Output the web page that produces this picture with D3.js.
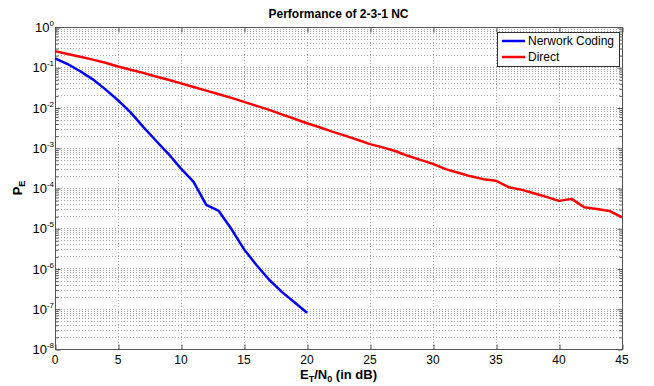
<!DOCTYPE html>
<html>
<head>
<meta charset="utf-8">
<script src="https://cdn.jsdelivr.net/npm/d3@7"></script>
<style>
body { margin: 0; background: #fff; }
text { font-family: "Liberation Sans", Arial, sans-serif; }
</style>
</head>
<body>
<div class="chart"></div>
<script>
// E_T/N_0 in dB
var snrNC = d3.range(0, 21);
var snrDirect = d3.range(0, 46);

// log10 of error probability
var logNC = [-0.78, -0.92, -1.10, -1.30, -1.55, -1.82, -2.12, -2.48, -2.82, -3.15,
    -3.52, -3.85, -4.42, -4.57, -5.02, -5.52, -5.92, -6.28, -6.58, -6.84, -7.10];
var logDirect = [-0.60, -0.67, -0.74, -0.81, -0.89, -0.98, -1.06, -1.14, -1.23, -1.31,
    -1.40, -1.49, -1.58, -1.67, -1.76, -1.86, -1.96, -2.06, -2.17, -2.28,
    -2.39, -2.49, -2.60, -2.70, -2.80, -2.91, -2.99, -3.08, -3.20, -3.30,
    -3.40, -3.53, -3.62, -3.71, -3.78, -3.82, -3.98, -4.04, -4.13, -4.22,
    -4.32, -4.27, -4.48, -4.52, -4.57, -4.73];

var xTicks = [0, 5, 10, 15, 20, 25, 30, 35, 40, 45];
var yExps = [0, -1, -2, -3, -4, -5, -6, -7, -8];
var seriesNames = ["Nerwork Coding", "Direct"];
var seriesColors = ["#0000ff", "#ff0000"];

// plot box (note: "top" is reserved on window, so use pTop)
var pLeft = 55, pTop = 27, pRight = 622, pBottom = 349;

var svg = d3.select(".chart")
    .append("svg")
    .attr("width", 654)
    .attr("height", 386);

var x = d3.scaleLinear().domain([0, 45]).range([pLeft, pRight]);
var y = d3.scaleLog().domain([1e-8, 1]).range([pBottom, pTop]);

// grid: minor + major on y, major on x
var yGrid = [];
yExps.forEach(function(e) {
    if (e > -8) {
        for (var k = 1; k < 10; k++) yGrid.push(k * Math.pow(10, e - 1));
    }
});

var gridColor = "#a8a8a8";
svg.append("g").selectAll("line")
    .data(yGrid.filter(function(d) { return d > 1.5e-8; }))
    .enter().append("line")
    .attr("x1", pLeft).attr("x2", pRight)
    .attr("y1", function(d) { return Math.round(y(d)) + 0.5; })
    .attr("y2", function(d) { return Math.round(y(d)) + 0.5; })
    .style("stroke", gridColor)
    .style("stroke-width", 1)
    .style("stroke-dasharray", "1,2");

svg.append("g").selectAll("line")
    .data(xTicks.slice(1, -1))
    .enter().append("line")
    .attr("x1", function(d) { return Math.round(x(d)) + 0.5; })
    .attr("x2", function(d) { return Math.round(x(d)) + 0.5; })
    .attr("y1", pTop).attr("y2", pBottom)
    .style("stroke", gridColor)
    .style("stroke-width", 1)
    .style("stroke-dasharray", "1,2");

// axes box with inward ticks
var axisColor = "#555";
svg.append("rect")
    .attr("x", pLeft + 0.5).attr("y", pTop + 0.5)
    .attr("width", pRight - pLeft).attr("height", pBottom - pTop)
    .style("fill", "none")
    .style("stroke", axisColor);

var xb = d3.axisBottom(x).tickValues(xTicks).tickSize(-5).tickFormat("");
var xt = d3.axisTop(x).tickValues(xTicks).tickSize(-5).tickFormat("");
svg.append("g").attr("transform", "translate(0.5," + (pBottom + 0.5) + ")").call(xb);
svg.append("g").attr("transform", "translate(0.5," + (pTop + 0.5) + ")").call(xt);

var yMajor = yExps.map(function(e) { return Math.pow(10, e); });
var yMinor = yGrid.filter(function(d) {
    var l = Math.log10(d);
    return Math.abs(l - Math.round(l)) > 1e-9;
});
svg.append("g").attr("transform", "translate(" + (pLeft + 0.5) + ",0.5)")
    .call(d3.axisLeft(y).tickValues(yMajor).tickSize(-5).tickFormat(""));
svg.append("g").attr("transform", "translate(" + (pRight + 0.5) + ",0.5)")
    .call(d3.axisRight(y).tickValues(yMajor).tickSize(-5).tickFormat(""));
svg.append("g").attr("transform", "translate(" + (pLeft + 0.5) + ",0.5)")
    .call(d3.axisLeft(y).tickValues(yMinor).tickSize(-3).tickFormat(""));
svg.append("g").attr("transform", "translate(" + (pRight + 0.5) + ",0.5)")
    .call(d3.axisRight(y).tickValues(yMinor).tickSize(-3).tickFormat(""));
svg.selectAll(".domain").remove();
svg.selectAll(".tick line").style("stroke", axisColor);

// tick labels
svg.append("g").selectAll("text")
    .data(xTicks)
    .enter().append("text")
    .attr("x", function(d) { return x(d); })
    .attr("y", pBottom + 15)
    .attr("text-anchor", "middle")
    .style("font-size", "12px")
    .text(function(d) { return d; });

var yl = svg.append("g").selectAll("text")
    .data(yExps)
    .enter().append("text")
    .attr("x", 54)
    .attr("y", function(d) { return y(Math.pow(10, d)) + 5; })
    .attr("text-anchor", "end")
    .style("font-size", "13px");
yl.append("tspan").text("10");
yl.append("tspan").attr("dy", -6).style("font-size", "8px").text(function(d) { return d; });

// lines
var line = d3.line()
    .x(function(d) { return x(d[0]); })
    .y(function(d) { return y(Math.pow(10, d[1])); });

var series = [
    d3.zip(snrNC, logNC),
    d3.zip(snrDirect, logDirect)
];

svg.append("g").selectAll("path")
    .data(series)
    .enter().append("path")
    .attr("d", line)
    .style("fill", "none")
    .style("stroke", function(d, i) { return seriesColors[i]; })
    .style("stroke-width", 2.5)
    .style("stroke-linejoin", "round");

// title and labels
svg.append("text")
    .attr("x", (pLeft + pRight) / 2)
    .attr("y", 18)
    .attr("text-anchor", "middle")
    .style("font-size", "12px")
    .style("font-weight", "bold")
    .text("Performance of 2-3-1 NC");

var xl = svg.append("text")
    .attr("x", (pLeft + pRight) / 2)
    .attr("y", 379)
    .attr("text-anchor", "middle")
    .style("font-size", "13px")
    .style("font-weight", "bold");
xl.append("tspan").text("E");
xl.append("tspan").attr("dy", 3).style("font-size", "9px").text("T");
xl.append("tspan").attr("dy", -3).text("/N");
xl.append("tspan").attr("dy", 3).style("font-size", "9px").text("0");
xl.append("tspan").attr("dy", -3).text(" (in dB)");

var ylab = svg.append("text")
    .attr("transform", "translate(22," + ((pTop + pBottom) / 2) + ") rotate(-90)")
    .attr("text-anchor", "middle")
    .style("font-size", "13px")
    .style("font-weight", "bold");
ylab.append("tspan").text("P");
ylab.append("tspan").attr("dy", 3).style("font-size", "9px").text("E");

// legend
var legend = svg.append("g");
legend.append("rect")
    .attr("x", 497.5).attr("y", 32.5)
    .attr("width", 122).attr("height", 34)
    .style("fill", "#fff")
    .style("stroke", "#333");
var items = legend.selectAll(".item")
    .data(seriesNames)
    .enter().append("g")
    .attr("class", "item")
    .attr("transform", function(d, i) { return "translate(0," + (41 + i * 16) + ")"; });
items.append("line")
    .attr("x1", 502).attr("x2", 525)
    .style("stroke", function(d, i) { return seriesColors[i]; })
    .style("stroke-width", 2.5);
items.append("text")
    .attr("x", 528).attr("y", 4)
    .style("font-size", "12px")
    .text(function(d) { return d; });
</script>
</body>
</html>
